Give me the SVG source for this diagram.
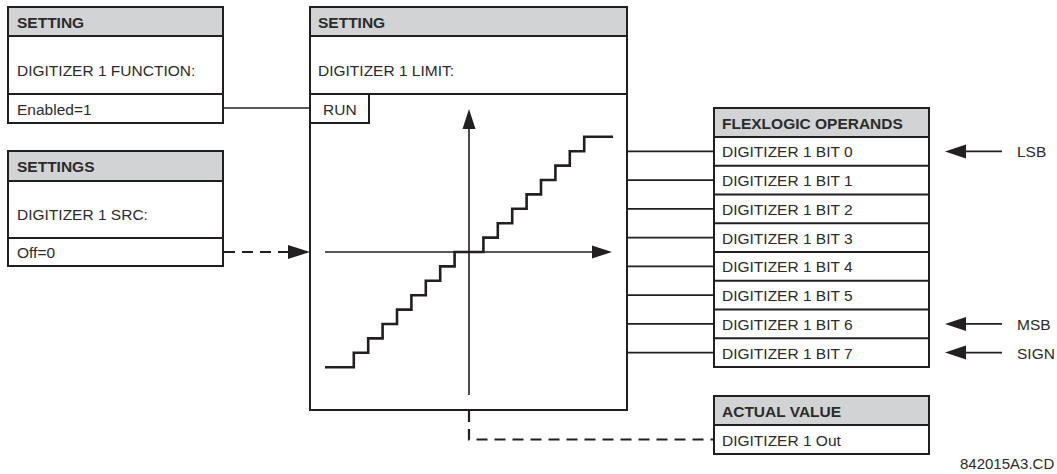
<svg xmlns="http://www.w3.org/2000/svg" width="1057" height="474" viewBox="0 0 1057 474">
<defs>
<style>
.box{fill:#ffffff;stroke:#231f20;stroke-width:2}
.hdr{fill:#d1d3d4;stroke:#231f20;stroke-width:2}
.div{stroke:#231f20;stroke-width:2;fill:none}
.ht{font-family:"Liberation Sans",Arial,sans-serif;font-weight:bold;font-size:15.5px;fill:#2b2b2b}
.bt{font-family:"Liberation Sans",Arial,sans-serif;font-size:15.5px;fill:#2b2b2b}
.ln{stroke:#231f20;stroke-width:1.6;fill:none}
.dash{stroke:#231f20;stroke-width:2.2;fill:none;stroke-dasharray:11 7}
.stair{stroke:#231f20;stroke-width:2.6;fill:none}
.ah{fill:#231f20}
</style>
</defs>
<rect width="1057" height="474" fill="#ffffff"/>

<g id="setting-function">
<rect class="box" x="8" y="7" width="215" height="116"/>
<rect class="hdr" x="8" y="7" width="215" height="29"/>
<line class="div" x1="8" y1="94" x2="223" y2="94"/>
<text class="ht" x="17" y="27.5">SETTING</text>
<text class="bt" x="17" y="75.5">DIGITIZER 1 FUNCTION:</text>
<text class="bt" x="17" y="114.5">Enabled=1</text>
</g>

<g id="settings-src">
<rect class="box" x="8" y="151" width="215" height="115"/>
<rect class="hdr" x="8" y="151" width="215" height="30"/>
<line class="div" x1="8" y1="238" x2="223" y2="238"/>
<text class="ht" x="17" y="172">SETTINGS</text>
<text class="bt" x="17" y="220">DIGITIZER 1 SRC:</text>
<text class="bt" x="17" y="258">Off=0</text>
</g>

<g id="setting-limit">
<rect class="box" x="310" y="7" width="317" height="403"/>
<rect class="hdr" x="310" y="7" width="317" height="29"/>
<line class="div" x1="310" y1="94" x2="627" y2="94"/>
<text class="ht" x="318" y="27.5">SETTING</text>
<text class="bt" x="318" y="75.5">DIGITIZER 1 LIMIT:</text>
<rect class="box" x="310" y="94" width="59" height="29"/>
<text class="bt" x="323" y="114.5">RUN</text>
<line class="ln" x1="469" y1="126" x2="469" y2="395"/>
<polygon class="ah" points="469,109 462.5,129 475.5,129"/>
<line class="ln" x1="325" y1="252" x2="594" y2="252"/>
<polygon class="ah" points="612,252 592,245.5 592,258.5"/>
<path class="stair" d="M325,367.2 H353.8 V352.8 H368.2 V338.4 H382.6 V324 H397 V309.6 H411.4 V295.2 H425.8 V280.8 H440.2 V266.4 H454.6 V252 H483.4 V237.6 H497.8 V223.2 H512.2 V208.8 H526.6 V194.4 H541 V180 H555.4 V165.6 H569.8 V151.2 H584.2 V136.8 H613"/>
</g>

<g id="flexlogic-operands">
<rect class="box" x="714" y="108" width="215" height="259"/>
<rect class="hdr" x="714" y="108" width="215" height="29"/>
<line class="div" x1="714" y1="165.75" x2="929" y2="165.75"/>
<line class="div" x1="714" y1="194.5" x2="929" y2="194.5"/>
<line class="div" x1="714" y1="223.25" x2="929" y2="223.25"/>
<line class="div" x1="714" y1="252" x2="929" y2="252"/>
<line class="div" x1="714" y1="280.75" x2="929" y2="280.75"/>
<line class="div" x1="714" y1="309.5" x2="929" y2="309.5"/>
<line class="div" x1="714" y1="338.25" x2="929" y2="338.25"/>
<text class="ht" x="722" y="128.5">FLEXLOGIC OPERANDS</text>
<text class="bt" x="722" y="157.4">DIGITIZER 1 BIT 0</text>
<text class="bt" x="722" y="186.1">DIGITIZER 1 BIT 1</text>
<text class="bt" x="722" y="214.9">DIGITIZER 1 BIT 2</text>
<text class="bt" x="722" y="243.6">DIGITIZER 1 BIT 3</text>
<text class="bt" x="722" y="272.4">DIGITIZER 1 BIT 4</text>
<text class="bt" x="722" y="301.1">DIGITIZER 1 BIT 5</text>
<text class="bt" x="722" y="329.9">DIGITIZER 1 BIT 6</text>
<text class="bt" x="722" y="358.6">DIGITIZER 1 BIT 7</text>
</g>

<g id="actual-value">
<rect class="box" x="714" y="396" width="215" height="58"/>
<rect class="hdr" x="714" y="396" width="215" height="29"/>
<text class="ht" x="722" y="416.5">ACTUAL VALUE</text>
<text class="bt" x="722" y="445.5">DIGITIZER 1 Out</text>
</g>

<g id="bit-labels">
<line class="ln" x1="962" y1="151.4" x2="1002" y2="151.4"/>
<polygon class="ah" points="945,151.4 966,144.4 966,158.4"/>
<text class="bt" x="1017" y="157.4">LSB</text>
<line class="ln" x1="962" y1="323.9" x2="1002" y2="323.9"/>
<polygon class="ah" points="945,323.9 966,316.9 966,330.9"/>
<text class="bt" x="1017" y="329.9">MSB</text>
<line class="ln" x1="962" y1="352.6" x2="1002" y2="352.6"/>
<polygon class="ah" points="945,352.6 966,345.6 966,359.6"/>
<text class="bt" x="1017" y="358.6">SIGN</text>
</g>

<g id="connectors">
<line class="ln" x1="223" y1="108" x2="310" y2="108"/>
<line class="dash" x1="224" y1="252" x2="290" y2="252"/>
<polygon class="ah" points="310,252 288,245 288,259"/>
<line class="ln" x1="627" y1="151.4" x2="714" y2="151.4"/>
<line class="ln" x1="627" y1="180.1" x2="714" y2="180.1"/>
<line class="ln" x1="627" y1="208.9" x2="714" y2="208.9"/>
<line class="ln" x1="627" y1="237.6" x2="714" y2="237.6"/>
<line class="ln" x1="627" y1="266.4" x2="714" y2="266.4"/>
<line class="ln" x1="627" y1="295.1" x2="714" y2="295.1"/>
<line class="ln" x1="627" y1="323.9" x2="714" y2="323.9"/>
<line class="ln" x1="627" y1="352.6" x2="714" y2="352.6"/>
<path class="dash" d="M469,411 V439.5 H714"/>
</g>

<text class="bt" x="960" y="469" style="font-size:15px">842015A3.CD</text>
</svg>
